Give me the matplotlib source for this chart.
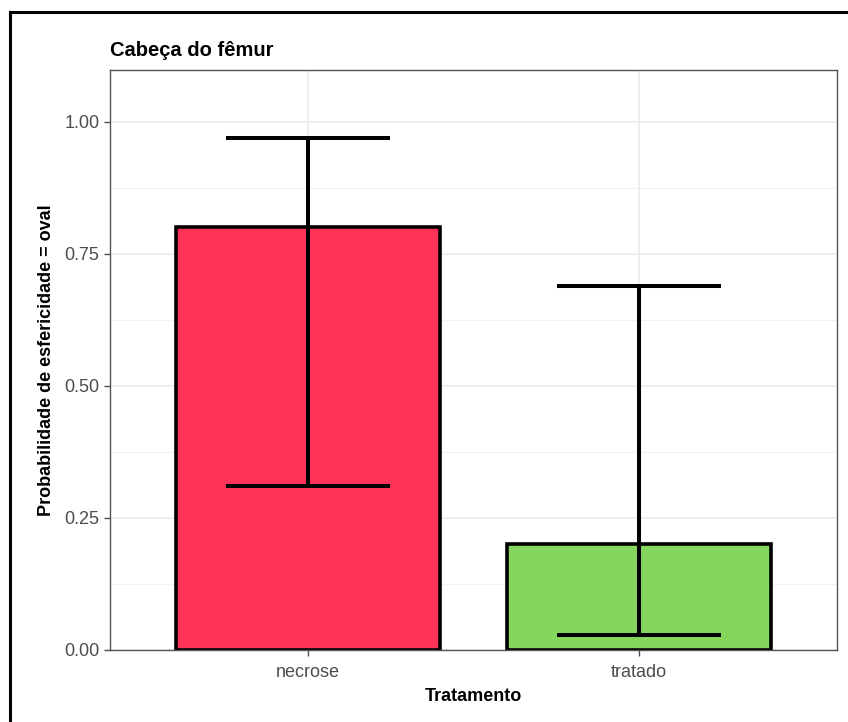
import matplotlib
matplotlib.use("Agg")
import matplotlib.pyplot as plt
from matplotlib.lines import Line2D
import numpy as np

categories = ["necrose", "tratado"]
values = [0.80, 0.20]
lower = [0.31, 0.028]
upper = [0.97, 0.69]
colors = ["#FF3358", "#85D65D"]
yticks = [0.00, 0.25, 0.50, 0.75, 1.00]
ytick_labels = ["0.00", "0.25", "0.50", "0.75", "1.00"]

plt.rcParams['font.family'] = ['Liberation Sans', 'DejaVu Sans']

W, H = 848, 722
fig = plt.figure(figsize=(W / 100, H / 100), dpi=100)
left, right, top, bottom = 110, 837, 70, 650
ax = fig.add_axes([left / W, 1 - bottom / H, (right - left) / W, (bottom - top) / H])

x = np.arange(1, len(categories) + 1)
ax.set_axisbelow(True)
for yv in np.arange(0.125, 1.1, 0.25):
    ax.axhline(yv, color="#F2F2F2", lw=0.8, zorder=0)
for yv in yticks:
    ax.axhline(yv, color="#EBEBEB", lw=1.2, zorder=0)
for xv in x:
    ax.axvline(xv, color="#EBEBEB", lw=1.2, zorder=0)

ax.bar(x, values, width=0.8, color=colors, edgecolor="black", linewidth=2.6, zorder=2)
vals = np.array(values)
yerr = np.vstack([vals - np.array(lower), np.array(upper) - vals])
ax.errorbar(x, vals, yerr=yerr, fmt="none", ecolor="black", elinewidth=2.9,
            capsize=59, capthick=2.9, zorder=3)

ax.set_xlim(0.4, 2.6)
ax.set_ylim(0, 1.098)
ax.set_xticks(x)
ax.set_xticklabels(categories)
ax.set_yticks(yticks)
ax.set_yticklabels(ytick_labels)
ax.tick_params(axis="both", colors="#4D4D4D", labelsize=13, length=4, width=1.0, direction="out")
ax.tick_params(axis="x", pad=6)
for sp in ax.spines.values():
    sp.set_color("#555555")
    sp.set_linewidth(1.0)

ax.set_xlabel("Tratamento", fontsize=13, fontweight="bold", labelpad=5)
ax.set_ylabel("Probabilidade de esfericidade = oval", fontsize=13, fontweight="bold", labelpad=7)
ax.set_title("Cabeça do fêmur", fontsize=14.5, fontweight="bold", loc="left", pad=10)

# screenshot border (top and left)
fig.add_artist(Line2D([10 / W, 1], [1 - 12 / H, 1 - 12 / H], color="black", lw=2.2, transform=fig.transFigure))
fig.add_artist(Line2D([10 / W, 10 / W], [0, 1 - 12 / H], color="black", lw=2.2, transform=fig.transFigure))

fig.savefig("out.png", dpi=100)
